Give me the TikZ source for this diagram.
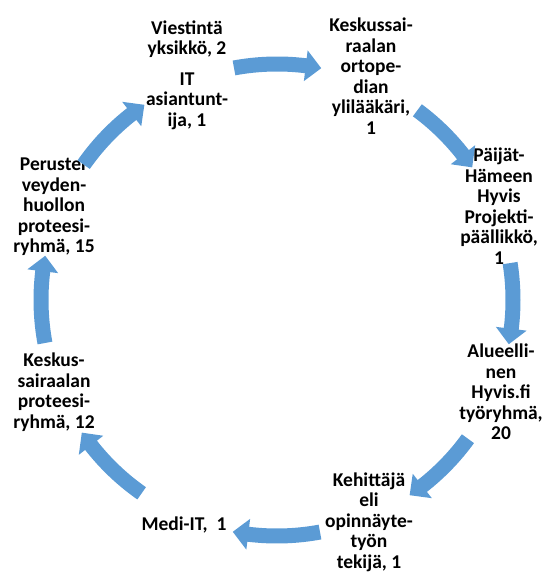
\documentclass[tikz,border=0pt]{standalone}
\usepackage{fontspec}
\setmainfont{Carlito}
\definecolor{cyclefill}{RGB}{91,155,213}
\tikzset{
  lbl/.style={align=center, font=\fontsize{19.5}{20.5}\selectfont\bfseries,
              inner sep=0pt, text=black},
  cyc/.style={fill=cyclefill, draw=none},
}
% curved block arrow on the cycle, #1 = middle angle, #2 = tail offset (clockwise flow)
\newcommand\cyclearrow[2]{%
  \fill[cyc, shift={(ctr)}]
    ({#1+#2}:243.5) arc[start angle={#1+#2}, end angle={#1-7}, radius=243.5]
    -- ({#1-7}:251.5) -- ({#1-10.8}:236) -- ({#1-7}:220.5)
    -- ({#1-7}:228.5) arc[start angle={#1-7}, end angle={#1+#2}, radius=228.5]
    -- cycle;}
\begin{document}
\begin{tikzpicture}[x=1pt, y=1pt]
\useasboundingbox (0,0) rectangle (546,574);
\coordinate (ctr) at (277,274);

\node[lbl] (viest)  at (187,499) {Viestintä\\yksikkö, 2\\[10pt]IT\\asiantunt-\\ija, 1};
\node[lbl] (orto)   at (371,498) {Keskussai-\\raalan\\ortope-\\dian\\ylilääkäri,\\1};
\node[lbl] (paijat) at (499,368) {Päijät-\\Hämeen\\Hyvis\\Projekti-\\päällikkö,\\1};
\node[lbl] (alue)   at (501,182) {Alueelli-\\nen\\Hyvis.fi\\työryhmä,\\20};
\node[lbl] (kehit)  at (369,52)  {Kehittäjä\\eli\\opinnäyte-\\työn\\tekijä, 1};
\node[lbl] (medi)   at (184,49)  {Medi-IT,~~1};
\node[lbl] (protee) at (54,182)  {Keskus-\\sairaalan\\proteesi-\\ryhmä, 12};
\node[lbl] (perus)  at (54,367)  {Peruster\\veyden-\\huollon\\proteesi-\\ryhmä, 15};

\foreach \m/\t in {90/10.5,45/8.5,0/9,-45/9,-90/10.5,-135/10,180/10.5,135/10}{\cyclearrow{\m}{\t}}
\end{tikzpicture}
\end{document}
